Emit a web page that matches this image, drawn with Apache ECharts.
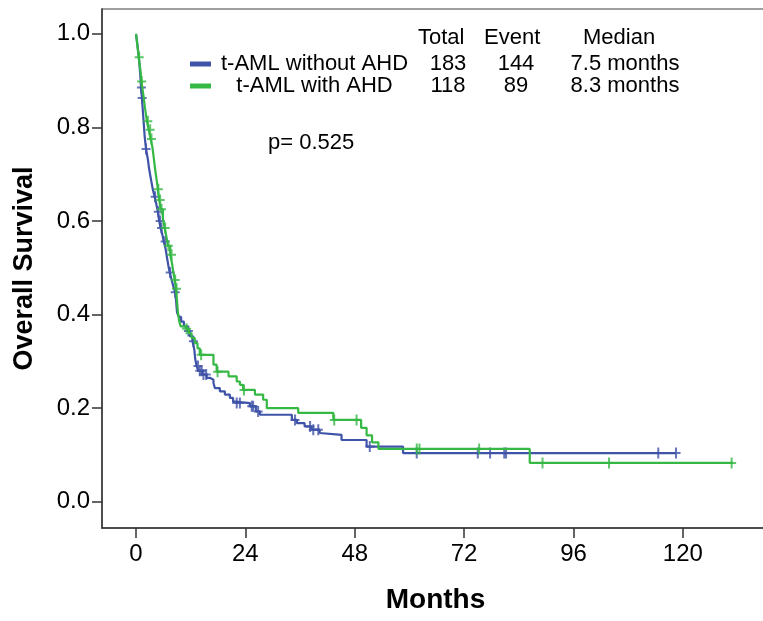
<!DOCTYPE html>
<html>
<head>
<meta charset="utf-8">
<script src="https://cdn.jsdelivr.net/npm/echarts@6/dist/echarts.min.js"></script>
<style>
  html, body { margin: 0; padding: 0; background: #fff; }
  #chart { width: 763px; height: 621px; }
</style>
</head>
<body>
<div id="chart"></div>
<script>
// Kaplan-Meier steps: [month, survival after event]
const groupNames = ['t-AML without AHD', 't-AML with AHD'];
const totals = ['183', '118'];
const events = ['144', '89'];
const medians = ['7.5 months', '8.3 months'];
const headers = ['Total', 'Event', 'Median'];
const pValue = 'p= 0.525';
const xTicks = [0, 24, 48, 72, 96, 120];
const yTicks = [0, 0.2, 0.4, 0.6, 0.8, 1.0];

const blueSteps = [[0, 1.0], [0.3, 0.978], [0.6, 0.951], [0.9, 0.918], [1.1, 0.885], [1.3, 0.863],
  [1.5, 0.836], [1.7, 0.808], [1.9, 0.781], [2.2, 0.754], [2.6, 0.732], [2.9, 0.71], [3.3, 0.688],
  [3.7, 0.667], [4.1, 0.652], [4.5, 0.634], [4.8, 0.62], [5.1, 0.6], [5.4, 0.585], [5.8, 0.57],
  [6.1, 0.556], [6.5, 0.54], [6.8, 0.522], [7.1, 0.505], [7.4, 0.49], [7.8, 0.475], [8.2, 0.46],
  [8.6, 0.448], [8.8, 0.43], [9.0, 0.405], [9.4, 0.395], [9.9, 0.385], [10.5, 0.375], [11.2, 0.365],
  [11.8, 0.354], [12.4, 0.343], [12.8, 0.325], [13.0, 0.305], [13.3, 0.29], [13.7, 0.28],
  [14.5, 0.272], [15.5, 0.265], [16.2, 0.261], [17.0, 0.254], [17.3, 0.243], [18.4, 0.236],
  [19.5, 0.229], [20.6, 0.222], [21.3, 0.214], [21.8, 0.211], [25.0, 0.204], [26.3, 0.193],
  [27.2, 0.186], [34.2, 0.175], [35.3, 0.168], [37.0, 0.161], [38.5, 0.154], [40.3, 0.147],
  [40.6, 0.143], [45.1, 0.132], [50.6, 0.118], [58.6, 0.104], [118.5, 0.104]];

const greenSteps = [[0, 1.0], [0.3, 0.975], [0.6, 0.95], [1.0, 0.92], [1.2, 0.898], [1.6, 0.87],
  [2.0, 0.84], [2.4, 0.813], [2.8, 0.795], [3.2, 0.775], [3.6, 0.758], [3.9, 0.735], [4.2, 0.71],
  [4.5, 0.69], [4.8, 0.668], [5.1, 0.645], [5.4, 0.625], [5.9, 0.605], [6.3, 0.585], [6.7, 0.565],
  [7.0, 0.547], [7.5, 0.528], [7.9, 0.51], [8.2, 0.49], [8.5, 0.474], [8.8, 0.455], [9.0, 0.43],
  [9.2, 0.405], [9.5, 0.385], [9.8, 0.375], [11.0, 0.37], [11.6, 0.36], [12.2, 0.35], [12.9, 0.339],
  [13.5, 0.328], [14.0, 0.314], [17.0, 0.293], [17.7, 0.278], [20.3, 0.268], [22.1, 0.257],
  [22.8, 0.25], [23.5, 0.239], [26.1, 0.229], [27.9, 0.218], [28.7, 0.2], [35.6, 0.19],
  [43.3, 0.175], [49.4, 0.158], [50.6, 0.142], [51.8, 0.127], [53.2, 0.113], [86.4, 0.083],
  [131, 0.083]];

// censored times (months)
const blueCensor = [1.2, 1.35, 2.2, 4.2, 4.9, 5.3, 5.6, 6.4, 7.5, 8.6, 11.5, 12.6, 13.6, 14.0, 14.4,
  14.8, 15.4, 22.1, 22.8, 25.4, 25.7, 26.8, 34.9, 38.2, 38.9, 40.0, 51.3, 61.6, 75.0, 77.7, 80.8,
  81.2, 114.6, 118.5];
const greenCensor = [0.7, 1.25, 2.6, 3.1, 3.4, 4.9, 5.3, 5.6, 6.4, 7.1, 7.8, 8.6, 8.9, 11.1, 14.3,
  17.9, 23.7, 43.5, 48.4, 61.6, 62.2, 75.3, 89.2, 103.8, 130.7];

const BLUE = '#3f53a8';
const GREEN = '#35b844';
const FONT = 'Liberation Sans, Arial, sans-serif';
const PLUS = 'path://M3.5,0H5.5V11H3.5Z M0,4.5H9V6.5H0Z';

// survival on the step curve at time t
function survAt(steps, t) {
    let s = steps[0][1];
    for (let i = 0; i < steps.length; i++) {
        if (steps[i][0] <= t) s = steps[i][1];
    }
    return s;
}

function censorPoints(steps, times) {
    return times.map(t => [t, survAt(steps, t)]);
}

const chart = echarts.init(document.getElementById('chart'));

// plot frame runs past the right edge of the picture, as in the original
const xMin = -7.46;
const xMax = 138.9;

const option = {
    animation: false,
    textStyle: { fontFamily: FONT, color: '#000' },
    grid: {
        left: 102, top: 9, right: -6, bottom: 93,
        outerBoundsMode: 'none',
        containLabel: false,
        show: true,
        borderColor: '#808080',
        borderWidth: 1.5,
    },
    xAxis: {
        type: 'value',
        min: xMin,
        max: xMax,
        name: 'Months',
        nameLocation: 'middle',
        nameGap: 58,
        nameTextStyle: { fontSize: 28, fontWeight: 'bold', color: '#000', fontFamily: FONT },
        axisLine: { show: true, onZero: false, lineStyle: { color: '#333', width: 1.5 } },
        axisTick: { show: true, length: 10, customValues: xTicks, lineStyle: { color: '#333', width: 1.5 } },
        axisLabel: { customValues: xTicks, fontSize: 24, color: '#000', margin: 14, fontFamily: FONT },
        splitLine: { show: false },
    },
    yAxis: {
        type: 'value',
        min: -0.056,
        max: 1.053,
        name: 'Overall Survival',
        nameLocation: 'middle',
        nameGap: 64,
        nameTextStyle: { fontSize: 27, fontWeight: 'bold', color: '#000', fontFamily: FONT },
        axisLine: { show: true, onZero: false, lineStyle: { color: '#333', width: 1.5 } },
        axisTick: { show: true, length: 10, customValues: yTicks, lineStyle: { color: '#333', width: 1.5 } },
        axisLabel: {
            customValues: yTicks, fontSize: 24, color: '#000', margin: 12, fontFamily: FONT,
            formatter: v => v.toFixed(1),
        },
        splitLine: { show: false },
    },
    legend: {
        data: groupNames,
        orient: 'vertical',
        left: 185,
        top: 48,
        icon: 'rect',
        itemWidth: 21,
        itemHeight: 5,
        itemGap: 0,
        selectedMode: false,
        formatter: function (name) {
            const i = groupNames.indexOf(name);
            return '{n|' + name + '}{t|' + totals[i] + '}{e|' + events[i] + '}{m|' + medians[i] + '}';
        },
        textStyle: {
            fontFamily: FONT,
            fontSize: 22,
            color: '#000',
            rich: {
                n: { width: 197, align: 'right', fontSize: 22, lineHeight: 24 },
                t: { width: 70, align: 'center', fontSize: 22, lineHeight: 24 },
                e: { width: 66, align: 'center', fontSize: 22, lineHeight: 24 },
                m: { width: 152, align: 'center', fontSize: 22, lineHeight: 24 },
            },
        },
    },
    graphic: [
        { type: 'text', left: 418, top: 27, style: { text: headers[0], font: '22px ' + FONT, fill: '#000' } },
        { type: 'text', left: 484, top: 27, style: { text: headers[1], font: '22px ' + FONT, fill: '#000' } },
        { type: 'text', left: 583, top: 27, style: { text: headers[2], font: '22px ' + FONT, fill: '#000' } },
        { type: 'text', left: 268, top: 132, style: { text: pValue, font: '22px ' + FONT, fill: '#000' } },
    ],
    series: [
        {
            name: groupNames[0],
            type: 'line',
            step: 'end',
            showSymbol: false,
            color: BLUE,
            lineStyle: { color: BLUE, width: 2.2 },
            data: blueSteps,
            z: 2,
        },
        {
            name: groupNames[1],
            type: 'line',
            step: 'end',
            showSymbol: false,
            color: GREEN,
            lineStyle: { color: GREEN, width: 2.2 },
            data: greenSteps,
            z: 3,
        },
        {
            name: 'blue censored',
            type: 'scatter',
            symbol: PLUS,
            symbolSize: [9, 11],
            itemStyle: { color: BLUE },
            data: censorPoints(blueSteps, blueCensor),
            z: 2,
        },
        {
            name: 'green censored',
            type: 'scatter',
            symbol: PLUS,
            symbolSize: [9, 11],
            itemStyle: { color: GREEN },
            data: censorPoints(greenSteps, greenCensor),
            z: 3,
        },
    ],
};

chart.setOption(option);
</script>
</body>
</html>
